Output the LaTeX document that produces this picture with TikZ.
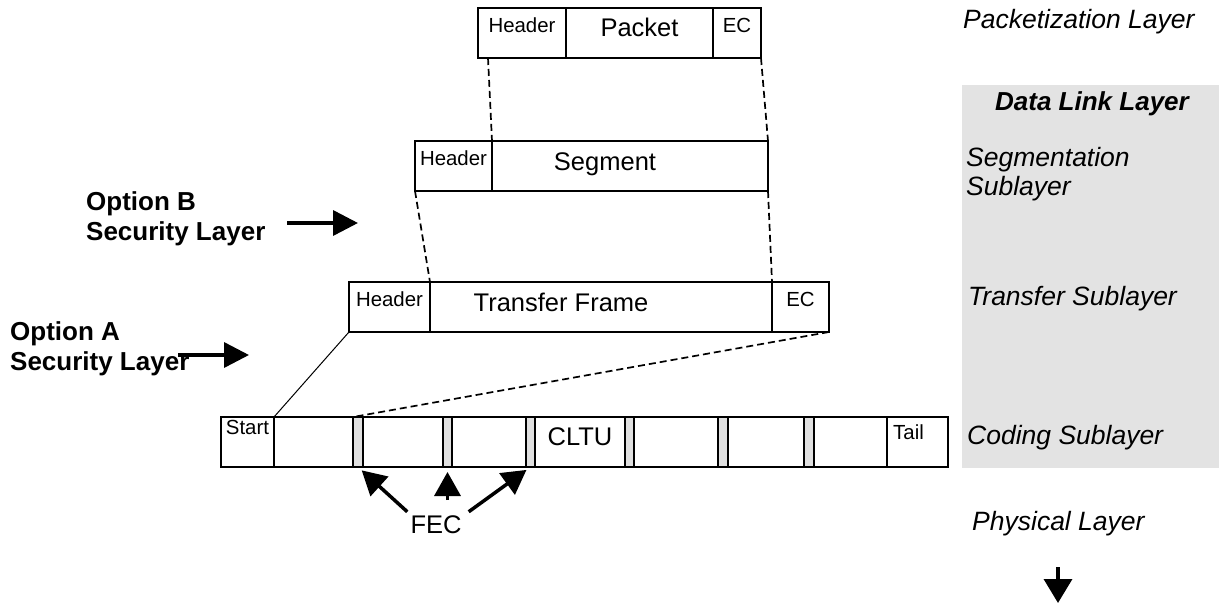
\documentclass[tikz,border=0pt]{standalone}
\usepackage{fontspec}
\setmainfont{Liberation Sans}
\usetikzlibrary{positioning,arrows.meta}

\definecolor{fecgray}{RGB}{224,224,224}
\definecolor{layergray}{RGB}{227,227,227}

\begin{document}
\begin{tikzpicture}[x=1pt,y=-1pt,
    cell/.style={draw,line width=2pt,inner sep=0pt,outer sep=0pt,minimum height=50pt,anchor=north west},
    fec/.style={cell,fill=fecgray,line width=1.5pt},
    big text/.style={inner sep=0pt,font=\fontsize{25.5}{30}\selectfont},
    small text/.style={inner sep=0pt,font=\fontsize{20.4}{24}\selectfont},
    layer text/.style={inner sep=0pt,anchor=west,align=left,font=\fontsize{26.5}{29}\selectfont\itshape},
    option text/.style={inner sep=0pt,anchor=north west,align=left,font=\fontsize{26}{30}\selectfont\bfseries},
    link/.style={line width=1.7pt,dash pattern=on 7pt off 4pt},
    fat arrow/.style={line width=3.5pt,-{Triangle[length=25pt,width=25pt]}},
    fec arrow/.style={line width=3.5pt,-{Triangle[length=24pt,width=26pt]},shorten >=5pt}]

    \useasboundingbox (0,0) rectangle (1219,607);

    % layer column
    \fill[layergray] (962,85) rectangle (1219,468);
    \node[layer text] (pktl) at (963,22) {Packetization Layer};
    \node[inner sep=0pt,font=\fontsize{26}{29}\selectfont\bfseries\itshape] (dll) at (1092,104) {Data Link Layer};
    \node[layer text] (segl) at (966,174) {Segmentation\\Sublayer};
    \node[layer text] (tfl) at (968,299) {Transfer Sublayer};
    \node[layer text] (codl) at (967,438) {Coding Sublayer};
    \node[layer text] (phyl) at (972,524) {Physical Layer};

    % packet
    \node[cell,minimum width=88pt] (hdrP) at (478,8) {};
    \node[cell,minimum width=147pt,right=0pt of hdrP] (pkt) {};
    \node[cell,minimum width=48pt,right=0pt of pkt] (ecP) {};
    \node[small text,below=10pt of hdrP.north] (hdrPtxt) {Header};
    \node[big text,below=10pt of pkt.north] (pkttxt) {Packet};
    \node[small text,below=10pt of ecP.north] (ecPtxt) {EC};

    % segment
    \node[cell,minimum width=77pt] (hdrS) at (415,141) {};
    \node[cell,minimum width=276pt,right=0pt of hdrS] (seg) {};
    \node[small text,below=10pt of hdrS.north] (hdrStxt) {Header};
    \node[big text,below=11pt of seg.north,xshift=-25pt] (segtxt) {Segment};

    % transfer frame
    \node[cell,minimum width=81pt] (hdrT) at (349,282) {};
    \node[cell,minimum width=342pt,right=0pt of hdrT] (tf) {};
    \node[cell,minimum width=57pt,right=0pt of tf] (ecT) {};
    \node[small text,below=10pt of hdrT.north] (hdrTtxt) {Header};
    \node[big text,below=11pt of tf.north,xshift=-40pt] (tftxt) {Transfer Frame};
    \node[small text,below=10pt of ecT.north] (ecTtxt) {EC};

    % CLTU
    \node[cell,minimum width=53pt] (start) at (221,417) {};
    \node[cell,minimum width=79pt,right=0pt of start] (c1) {};
    \node[fec,minimum width=10pt,right=0pt of c1] (f1) {};
    \node[cell,minimum width=80pt,right=0pt of f1] (c2) {};
    \node[fec,minimum width=9pt,right=0pt of c2] (f2) {};
    \node[cell,minimum width=74pt,right=0pt of f2] (c3) {};
    \node[fec,minimum width=9pt,right=0pt of c3] (f3) {};
    \node[cell,minimum width=90pt,right=0pt of f3] (cltu) {};
    \node[fec,minimum width=9pt,right=0pt of cltu] (f4) {};
    \node[cell,minimum width=84pt,right=0pt of f4] (c5) {};
    \node[fec,minimum width=10pt,right=0pt of c5] (f5) {};
    \node[cell,minimum width=76pt,right=0pt of f5] (c6) {};
    \node[fec,minimum width=10pt,right=0pt of c6] (f6) {};
    \node[cell,minimum width=73pt,right=0pt of f6] (c7) {};
    \node[cell,minimum width=61pt,right=0pt of c7] (tail) {};
    \node[small text,below=3pt of start.north] (starttxt) {Start};
    \node[big text,below=10pt of cltu.north] (cltutxt) {CLTU};
    \node[small text,below=8pt of tail.north west,anchor=north west,xshift=6pt] (tailtxt) {Tail};

    % mapping lines
    \draw[link] ([xshift=10pt]hdrP.south west) -- (hdrS.north east);
    \draw[link] (ecP.south east) -- (seg.north east);
    \draw[link] (hdrS.south west) -- (hdrT.north east);
    \draw[link] (seg.south east) -- (ecT.north west);
    \draw[line width=1pt] (hdrT.south west) -- (start.north east);
    \draw[link] (ecT.south east) -- (f1.north west);

    % FEC pointers
    \node[big text] (fec) at (436,525) {FEC};
    \draw[fec arrow] ([xshift=-3pt,yshift=4pt]fec.north west) -- (f1.south);
    \draw[fec arrow] ([yshift=-33pt]f2.south) -- (f2.south);
    \draw[fec arrow] ([xshift=7pt,yshift=4pt]fec.north east) -- (f3.south);

    % security layer options
    \node[option text] (optB) at (86,191) {Option B\\Security Layer};
    \node[option text] (optA) at (10,321) {Option A\\Security Layer};
    \coordinate (bTail) at (287,223);
    \coordinate (bTip) at (358,223);
    \coordinate (aTail) at (178,355);
    \coordinate (aTip) at (249,355);
    \draw[fat arrow] (bTail) -- (bTip);
    \draw[fat arrow] (aTail) -- (aTip);

    % down to physical layer
    \coordinate (phyTail) at (1058,567);
    \coordinate (phyTip) at (1058,603);
    \draw[line width=3.5pt,-{Triangle[length=24pt,width=28pt]}] (phyTail) -- (phyTip);
\end{tikzpicture}
\end{document}
